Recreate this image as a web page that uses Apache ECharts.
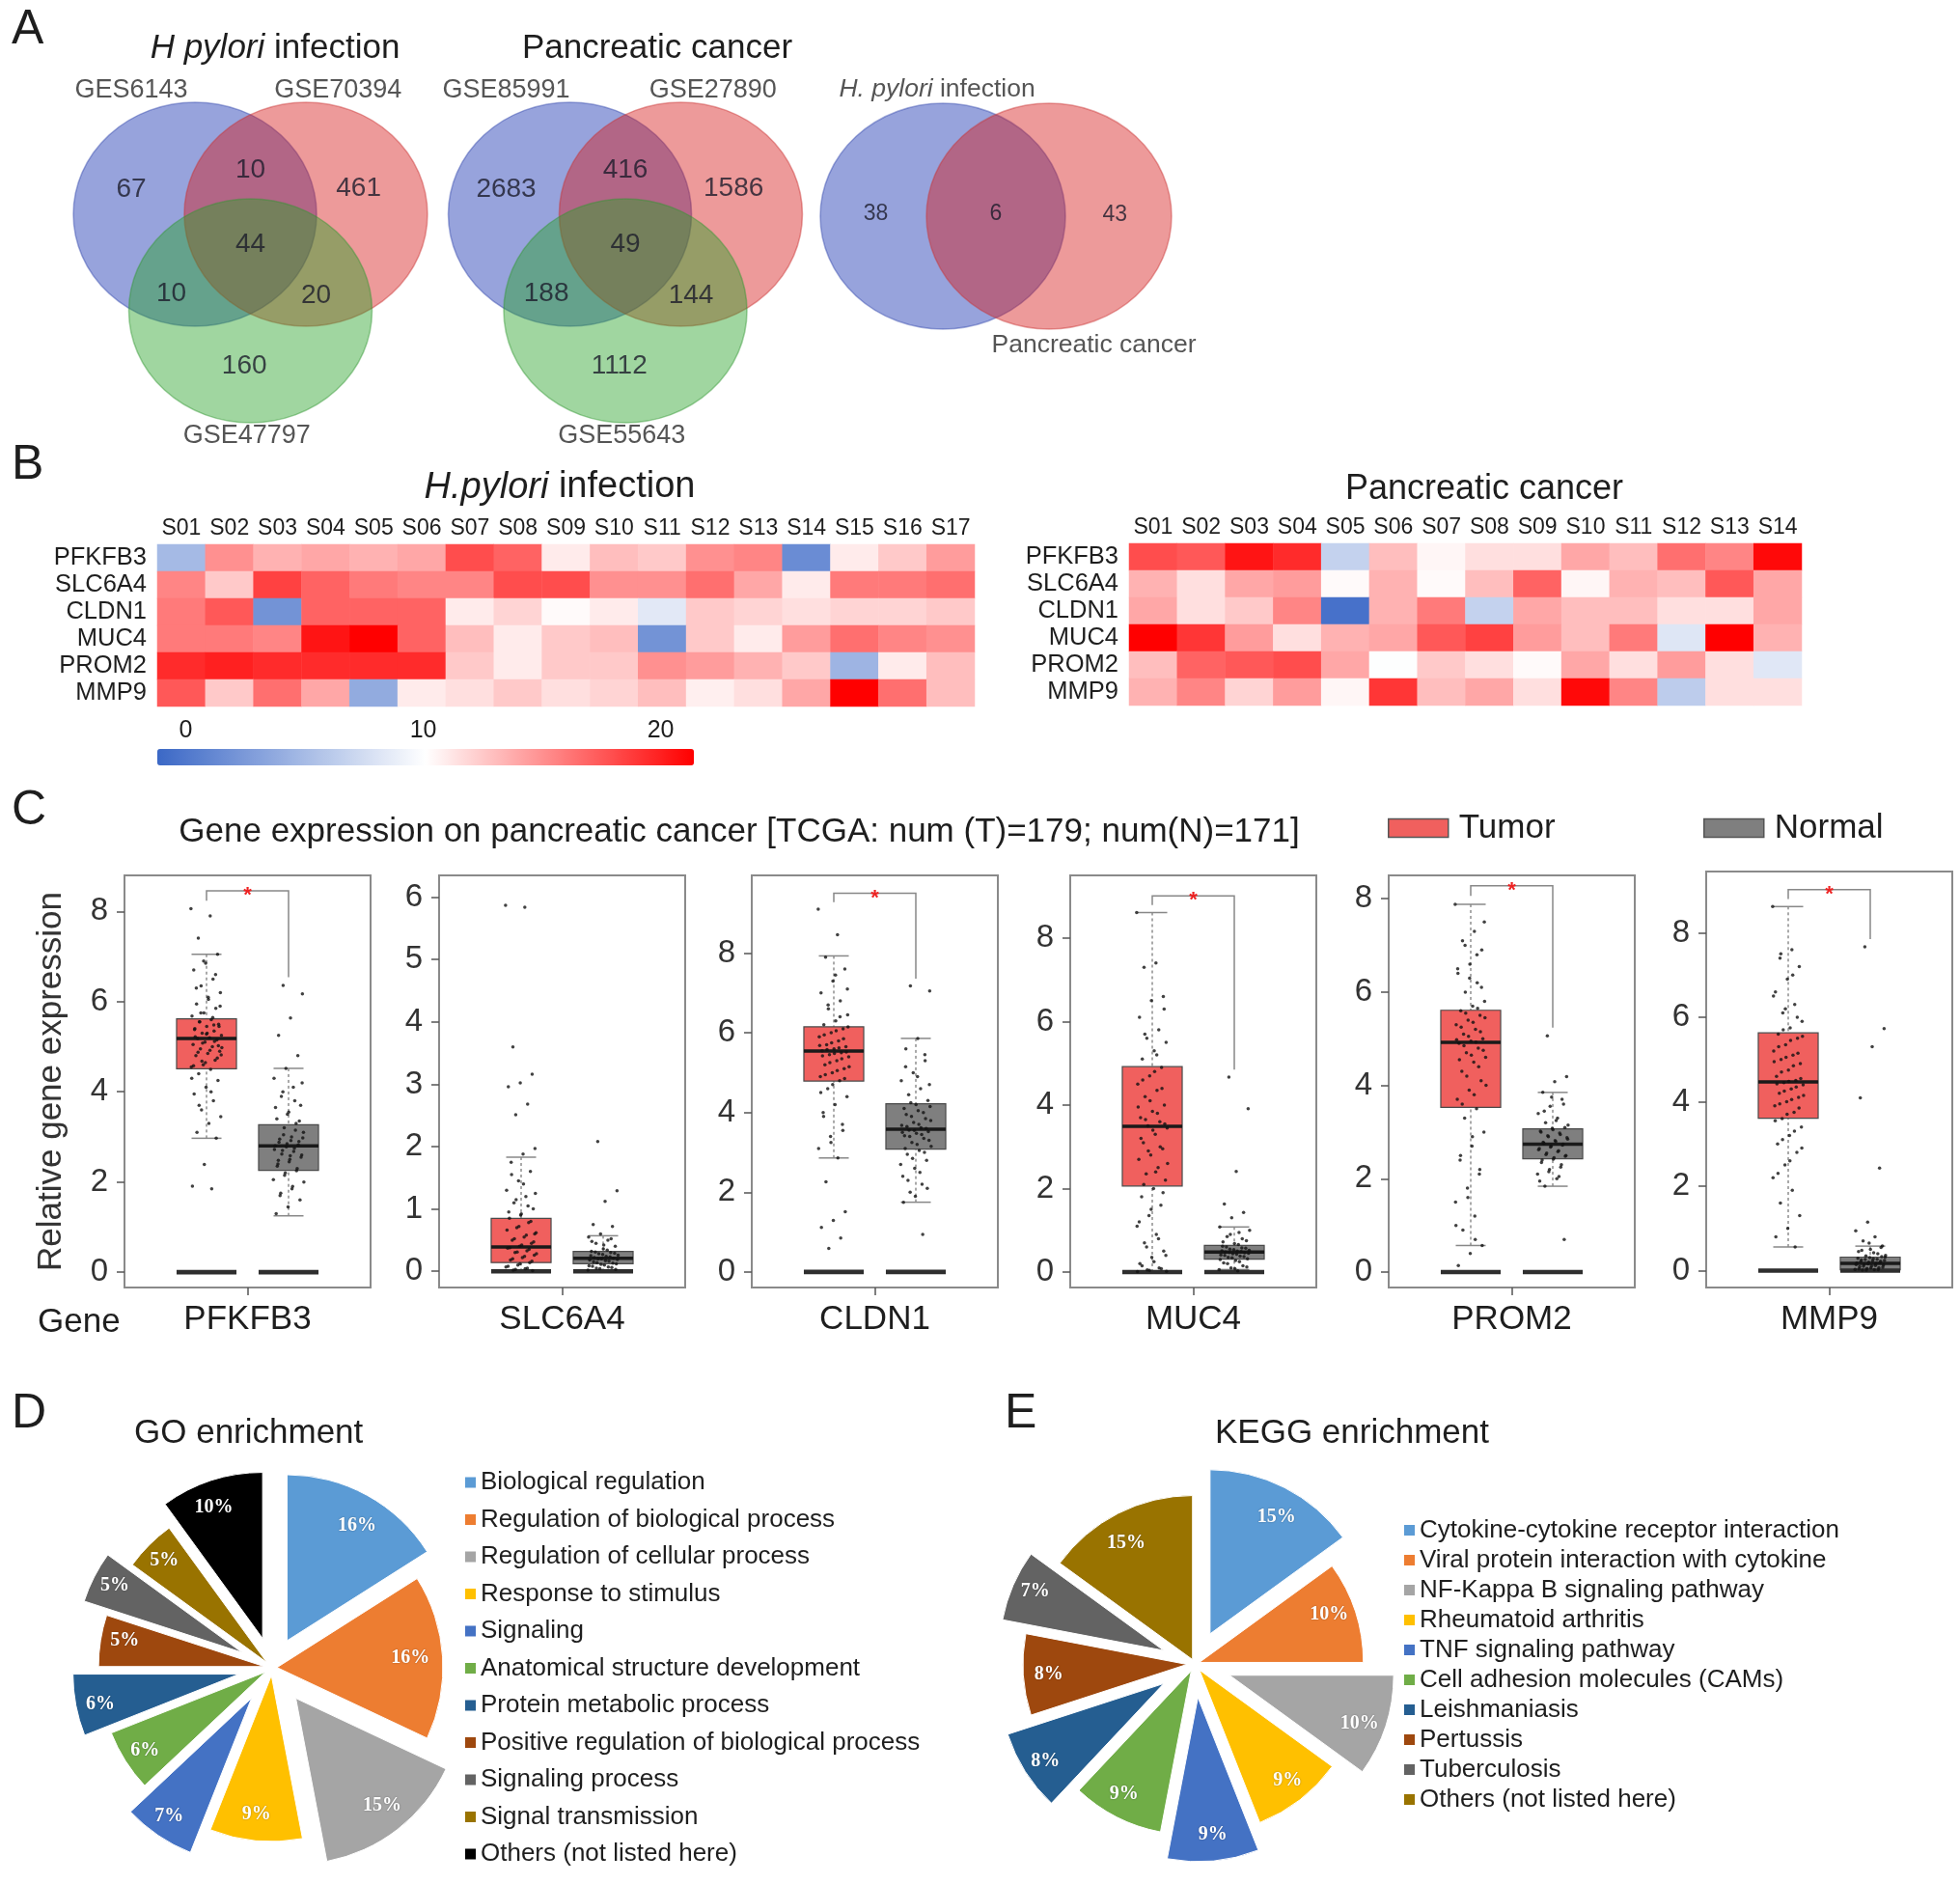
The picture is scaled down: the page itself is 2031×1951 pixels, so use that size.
<!DOCTYPE html>
<html><head><meta charset="utf-8">
<script src="https://cdn.jsdelivr.net/npm/echarts@6/dist/echarts.min.js"></script>
<style>html,body{margin:0;padding:0;background:#fff}#c{width:2031px;height:1951px}</style>
</head><body><div id="c"></div>
<script>
// ================= DATA =================
// Panel A : Venn region counts  (order: only1, 1&2, only2, all, 1&3, 2&3, only3)
const vennHpSets = ['GES6143', 'GSE70394', 'GSE47797'];
const vennHpCounts = [67, 10, 461, 44, 10, 20, 160];
const vennPcSets = ['GSE85991', 'GSE27890', 'GSE55643'];
const vennPcCounts = [2683, 416, 1586, 49, 188, 144, 1112];
const vennOverlapSets = ['H. pylori infection', 'Pancreatic cancer'];
const vennOverlapCounts = [38, 6, 43];

// Panel B : heatmaps
const genes = ['PFKFB3', 'SLC6A4', 'CLDN1', 'MUC4', 'PROM2', 'MMP9'];
const hpSamples = ['S01','S02','S03','S04','S05','S06','S07','S08','S09','S10','S11','S12','S13','S14','S15','S16','S17'];
const pcSamples = ['S01','S02','S03','S04','S05','S06','S07','S08','S09','S10','S11','S12','S13','S14'];
const hpExpr = [
  [4.9, 15, 13.5, 14, 13.5, 14, 18, 17, 11, 13, 12.5, 15, 15.5, 1.5, 11, 12.5, 14.5],
  [15.5, 12.5, 18.5, 17, 16, 15.5, 15.5, 18, 18, 15, 15, 16.5, 14, 11, 16, 16, 16.5],
  [16, 17.5, 2, 17, 17, 17, 11, 12, 10.3, 11, 8.4, 12.5, 12, 11.5, 12, 12, 12.5],
  [16, 16, 15.5, 20.5, 21.4, 17, 13, 11, 12.5, 13, 2, 12.5, 11, 14.5, 16.5, 15.5, 15],
  [19.5, 20, 19.5, 19.5, 19.5, 19.5, 12.5, 11, 12.5, 12.5, 15, 14.5, 13.5, 12.5, 4.5, 11, 13],
  [17.5, 12.5, 16.5, 14, 3.8, 11, 11.5, 12.5, 11.5, 12, 13, 10.8, 11.5, 14, 21.4, 16.5, 13]
];
const pcExpr = [
  [18, 17.5, 20.5, 19.5, 6.7, 13, 10.5, 11.5, 11.5, 14, 13, 16.5, 15.5, 21],
  [13.5, 11.5, 14, 14.5, 10.3, 13.5, 10.3, 13, 17, 10.5, 13.5, 13, 17.5, 14],
  [14, 11.5, 12.5, 15.5, -0.5, 13.5, 16, 6.7, 14, 13, 13, 11.5, 11.5, 14],
  [21.4, 19, 14.5, 11.5, 13.5, 14, 17.5, 18.5, 14.5, 13, 16, 8.2, 21.4, 13.5],
  [13, 17, 17.5, 18, 14, 10, 12.5, 11.5, 10.3, 14, 11.5, 14.5, 11.5, 8.3],
  [13.5, 15.5, 12, 14.5, 10.5, 19, 13, 14, 11.5, 21, 15.5, 6.3, 11.5, 11.5]
];
const colorbarTicks = [0, 10, 20];
const colorbarRange = [-1.2, 21.4];

// Panel C : box statistics [lower whisker, Q1, median, Q3, upper whisker]
const tumorBox = [
  [2.97, 4.51, 5.18, 5.62, 7.05],
  [0, 0.14, 0.39, 0.85, 1.83],
  [2.86, 4.79, 5.54, 6.15, 7.93],
  [0, 2.06, 3.49, 4.92, 8.61],
  [0.57, 3.53, 4.92, 5.61, 7.88],
  [0.56, 3.61, 4.47, 5.63, 8.62]
];
const normalBox = [
  [1.25, 2.26, 2.80, 3.27, 4.52],
  [0, 0.12, 0.21, 0.32, 0.57],
  [1.75, 3.08, 3.58, 4.22, 5.86],
  [0.06, 0.31, 0.48, 0.64, 1.08],
  [1.84, 2.43, 2.74, 3.07, 3.85],
  [0, 0.02, 0.17, 0.32, 0.58]
];
// individual sample values read (approximately) from the dot clouds
const tumorPoints = [
  [8.06, 7.9, 7.41, 7.05, 6.85, 6.7, 6.5, 6.35, 6.2, 6.05, 5.95, 5.85, 5.75, 5.68, 5.6, 5.55, 5.5, 5.45, 5.4, 5.35, 5.3, 5.25, 5.2, 5.18, 5.15, 5.1, 5.05, 5.0, 4.95, 4.9, 4.85, 4.8, 4.7, 4.6, 4.55, 4.5, 4.4, 4.25, 4.1, 3.95, 3.8, 3.6, 3.45, 3.3, 3.1, 2.97, 2.39, 1.91, 1.85,
   5.55, 5.45, 5.3, 5.22, 5.12, 5.08, 4.98, 4.92, 4.88, 4.75, 4.65, 4.58, 5.65, 5.75, 5.9, 6.1, 6.3, 6.6, 6.9, 4.3, 4.0, 3.7, 5.02, 5.28, 5.38, 5.48, 4.68, 4.82],
  [5.87, 5.84, 3.6, 3.16, 3.02, 2.96, 2.68, 2.51, 1.97, 1.88, 1.75, 1.6, 1.45, 1.3, 1.2, 1.1, 1.0, 0.92, 0.85, 0.78, 0.7, 0.62, 0.55, 0.5, 0.45, 0.4, 0.37, 0.33, 0.3, 0.26, 0.22, 0.18, 0.14, 0.1, 0.07, 0.04, 0.02, 0.01,
   0.9, 0.95, 1.05, 1.15, 1.25, 1.4, 1.55, 0.8, 0.72, 0.66, 0.58, 0.52, 0.47, 0.42, 0.38, 0.35, 0.31, 0.28, 0.24, 0.2, 0.16, 0.12, 0.08, 0.05, 0.03, 0.6],
  [9.1, 8.46, 7.9, 7.6, 7.3, 7.0, 6.8, 6.6, 6.45, 6.3, 6.2, 6.1, 6.0, 5.9, 5.8, 5.7, 5.65, 5.6, 5.55, 5.5, 5.45, 5.4, 5.3, 5.2, 5.1, 5.0, 4.9, 4.8, 4.6, 4.4, 4.2, 4.0, 3.7, 3.4, 3.1, 2.86, 2.26, 1.51, 1.29, 1.12, 0.85, 0.59,
   6.15, 6.05, 5.95, 5.85, 5.75, 5.68, 5.62, 5.58, 5.52, 5.48, 5.42, 5.35, 5.25, 5.15, 5.05, 4.95, 4.85, 4.7, 4.5, 6.4, 6.7, 7.1, 7.45, 3.9, 3.55, 3.25],
  [8.61, 7.4, 7.3, 6.6, 6.5, 6.1, 5.8, 5.6, 5.5, 5.3, 5.1, 4.9, 4.7, 4.5, 4.35, 4.2, 4.0, 3.85, 3.7, 3.6, 3.5, 3.45, 3.3, 3.1, 2.95, 2.8, 2.7, 2.5, 2.35, 2.2, 2.0, 1.8, 1.6, 1.35, 1.1, 0.9, 0.7, 0.5, 0.35, 0.2, 0.1, 0.05, 0.02,
   4.8, 4.6, 4.4, 4.1, 3.95, 3.8, 3.65, 3.55, 3.4, 3.2, 3.0, 2.9, 2.6, 2.4, 2.1, 1.9, 1.5, 1.2, 0.8, 0.6, 0.4, 0.25, 0.15, 0.08, 0.04, 0.01, 5.2, 5.7, 6.3],
  [7.88, 7.3, 7.1, 6.9, 6.6, 6.4, 6.2, 6.0, 5.8, 5.7, 5.6, 5.5, 5.4, 5.3, 5.2, 5.1, 5.0, 4.95, 4.9, 4.8, 4.7, 4.6, 4.5, 4.3, 4.1, 3.9, 3.7, 3.5, 3.3, 3.0, 2.7, 2.4, 2.1, 1.8, 1.5, 1.2, 0.9, 0.57, 0.4, 0.14,
   5.65, 5.55, 5.45, 5.35, 5.25, 5.15, 5.05, 4.98, 4.93, 4.85, 4.75, 4.65, 4.55, 4.4, 4.2, 4.0, 3.8, 3.6, 6.1, 6.3, 6.5, 6.8, 7.0, 7.5, 2.9, 2.5, 2.2, 1.6, 1.0, 0.7],
  [8.62, 7.6, 7.4, 7.2, 6.9, 6.6, 6.3, 6.1, 5.9, 5.75, 5.6, 5.5, 5.35, 5.2, 5.1, 5.0, 4.9, 4.75, 4.6, 4.5, 4.45, 4.4, 4.3, 4.2, 4.1, 4.0, 3.9, 3.75, 3.6, 3.4, 3.2, 3.0, 2.8, 2.5, 2.2, 1.9, 1.6, 1.3, 1.0, 0.8, 0.56,
   5.7, 5.55, 5.45, 5.3, 5.15, 5.05, 4.95, 4.85, 4.7, 4.55, 4.48, 4.42, 4.35, 4.25, 4.15, 4.05, 3.95, 3.85, 3.7, 3.55, 3.3, 3.1, 2.9, 2.6, 2.3, 6.0, 6.2, 6.5, 7.0, 7.5]
];
const normalPoints = [
  [6.36, 6.17, 5.64, 5.25, 4.8, 4.52, 4.3, 4.1, 3.9, 3.7, 3.55, 3.4, 3.3, 3.2, 3.1, 3.0, 2.95, 2.9, 2.85, 2.8, 2.75, 2.7, 2.6, 2.5, 2.4, 2.3, 2.2, 2.05, 1.9, 1.75, 1.6, 1.45, 1.3,
   3.15, 3.05, 2.98, 2.92, 2.88, 2.82, 2.78, 2.72, 2.68, 2.62, 2.55, 2.45, 2.35, 2.25, 2.15, 2.0, 1.85, 1.7, 3.35, 3.5, 3.65, 3.8, 4.0, 4.2, 2.58, 2.48],
  [2.08, 1.29, 1.12, 0.75, 0.72, 0.6, 0.55, 0.5, 0.45, 0.4, 0.36, 0.32, 0.3, 0.28, 0.26, 0.24, 0.22, 0.21, 0.2, 0.18, 0.16, 0.14, 0.12, 0.1, 0.08, 0.06, 0.04, 0.02,
   0.34, 0.31, 0.29, 0.27, 0.25, 0.23, 0.2, 0.19, 0.17, 0.15, 0.13, 0.11, 0.09, 0.07, 0.05, 0.03, 0.42, 0.48, 0.52],
  [7.18, 7.05, 5.86, 5.6, 5.3, 5.0, 4.8, 4.6, 4.45, 4.3, 4.2, 4.1, 4.0, 3.9, 3.8, 3.7, 3.65, 3.6, 3.55, 3.5, 3.45, 3.4, 3.3, 3.2, 3.1, 3.0, 2.85, 2.7, 2.5, 2.3, 2.1, 1.9, 1.75, 0.94,
   4.25, 4.15, 4.05, 3.95, 3.85, 3.75, 3.68, 3.62, 3.56, 3.52, 3.48, 3.42, 3.35, 3.25, 3.15, 3.05, 2.95, 2.8, 2.6, 2.4, 2.2, 2.0, 4.7, 4.9, 5.15, 5.45],
  [4.67, 3.91, 2.41, 1.63, 1.43, 1.3, 1.08, 0.95, 0.85, 0.75, 0.68, 0.62, 0.58, 0.55, 0.52, 0.5, 0.48, 0.46, 0.44, 0.41, 0.38, 0.35, 0.32, 0.28, 0.22, 0.15, 0.1, 0.06,
   0.66, 0.6, 0.57, 0.54, 0.51, 0.49, 0.47, 0.45, 0.43, 0.4, 0.37, 0.34, 0.3, 0.25, 0.2, 0.12, 0.08, 0.72, 0.8, 0.9, 1.0, 0.03],
  [5.06, 4.19, 4.08, 3.85, 3.7, 3.55, 3.4, 3.3, 3.2, 3.1, 3.05, 3.0, 2.95, 2.9, 2.85, 2.8, 2.76, 2.74, 2.7, 2.65, 2.6, 2.55, 2.5, 2.45, 2.4, 2.3, 2.2, 2.1, 2.0, 1.84, 0.7,
   3.08, 3.02, 2.98, 2.92, 2.88, 2.82, 2.78, 2.72, 2.68, 2.62, 2.58, 2.52, 2.48, 2.42, 2.35, 2.25, 2.15, 3.15, 3.25, 3.45, 3.6, 3.75, 1.95, 2.05],
  [7.67, 5.73, 5.3, 4.09, 2.43, 1.15, 0.94, 0.8, 0.7, 0.58, 0.5, 0.45, 0.4, 0.35, 0.32, 0.28, 0.25, 0.22, 0.2, 0.18, 0.17, 0.15, 0.13, 0.11, 0.09, 0.07, 0.05, 0.03, 0.02, 0.01,
   0.33, 0.31, 0.29, 0.27, 0.26, 0.24, 0.23, 0.21, 0.19, 0.16, 0.14, 0.12, 0.1, 0.08, 0.06, 0.04, 0.02, 0.01, 0.36, 0.42, 0.48, 0.55, 0.65]
];
const significant = [true, false, true, true, true, true];
const baselineValue = 0;
const yAxisMin = [-0.34, -0.26, -0.39, -0.37, -0.33, -0.4];
const yAxisMax = [8.8, 6.35, 9.95, 9.5, 8.5, 9.45];

// Panel D / E : enrichment percentages
const goTerms = ['Biological regulation', 'Regulation of biological process', 'Regulation of cellular process', 'Response to stimulus', 'Signaling', 'Anatomical structure development', 'Protein metabolic process', 'Positive regulation of biological process', 'Signaling process', 'Signal transmission', 'Others (not listed here)'];
const goPercent = [16, 16, 15, 9, 7, 6, 6, 5, 5, 5, 10];
const keggTerms = ['Cytokine-cytokine receptor interaction', 'Viral protein interaction with cytokine', 'NF-Kappa B signaling pathway', 'Rheumatoid arthritis', 'TNF signaling pathway', 'Cell adhesion molecules (CAMs)', 'Leishmaniasis', 'Pertussis', 'Tuberculosis', 'Others (not listed here)'];
const keggPercent = [15, 10, 10, 9, 9, 9, 8, 8, 7, 15];

// ================= STYLE / LAYOUT =================
const FONT = "'Liberation Sans', Arial, Helvetica, sans-serif";
const TXT = '#1e1e1e';
const vennColors = ['rgba(18,45,176,0.55)', 'rgba(213,24,24,0.55)', 'rgba(38,162,38,0.55)'];
const vennEdges = ['rgba(50,70,170,0.55)', 'rgba(200,50,50,0.55)', 'rgba(50,150,50,0.55)'];
const venn3Layout = {
  centers: [[-0.456, 0], [0.456, 0], [0, -0.862]],
  regions: [[-0.98, 0.22], [0, 0.39], [0.89, 0.23], [0, -0.27], [-0.65, -0.71], [0.54, -0.73], [-0.05, -1.36]],
  names: [[-0.98, 1.11], [0.72, 1.11], [-0.03, -1.98]]
};
const venn2Layout = {
  centers: [[-0.433, 0], [0.433, 0]],
  regions: [[-0.98, 0.02], [0, 0.02], [0.97, 0.01]],
  names: [[-0.48, 1.12], [0.80, -1.14]]
};
const venns = [
  { sets: vennHpSets, counts: vennHpCounts, layout: venn3Layout, cx: 259.5, cy: 222, ux: 126, uy: 116, numSize: 28, nameSize: 27 },
  { sets: vennPcSets, counts: vennPcCounts, layout: venn3Layout, cx: 648, cy: 222, ux: 126, uy: 116, numSize: 28, nameSize: 27 },
  { sets: vennOverlapSets, counts: vennOverlapCounts, layout: venn2Layout, cx: 1032, cy: 224, ux: 127, uy: 117, numSize: 23, nameSize: 26.5 }
];
const tumorColor = '#f0605e';
const normalColor = '#7f7f7f';
const boxWidth = 0.73;
const jitterWidth = 0.38;
const panelLeft = [129, 455, 779, 1109, 1439, 1768];
const panelTop = [907, 907, 907, 907, 907, 903];
const panelBottom = 1334;
const panelWidth = 255;
const officeColors = ['#5b9bd5', '#ed7d31', '#a5a5a5', '#ffc000', '#4472c4', '#70ad47', '#255e91', '#9e480e', '#636363', '#997300'];
const goColors = officeColors.concat(['#000000']);
const keggColors = officeColors;
const goExplode = [32, 5, 40, 8, 38, 8, 35, 8, 35, 8, 32];
const keggExplode = [35, 5, 38, 8, 35, 8, 38, 8, 35, 5];

// ================= BUILD =================
const grids = [], xAxes = [], yAxes = [], series = [];

// ---- Venn diagrams ----
venns.forEach((v) => {
  const gi = grids.length;
  grids.push({ left: v.cx - 2 * v.ux, top: v.cy - 1.6 * v.uy, width: 4 * v.ux, height: 3.8 * v.uy, outerBoundsMode: 'none' });
  xAxes.push({ gridIndex: gi, type: 'value', min: -2, max: 2, show: false });
  yAxes.push({ gridIndex: gi, type: 'value', min: -2.2, max: 1.6, show: false });
  series.push({
    type: 'scatter', xAxisIndex: gi, yAxisIndex: gi, silent: true, z: 1,
    symbol: 'circle', symbolSize: [2 * v.ux, 2 * v.uy],
    data: v.layout.centers.map((c, k) => ({ value: c, itemStyle: { color: vennColors[k], borderColor: vennEdges[k], borderWidth: 1.5 } }))
  });
  series.push({
    type: 'scatter', xAxisIndex: gi, yAxisIndex: gi, silent: true, z: 3,
    symbolSize: 1, itemStyle: { color: 'rgba(0,0,0,0)' },
    label: { show: true, position: 'inside', formatter: '{b}', fontSize: v.numSize, color: '#1b1b2b', fontFamily: FONT },
    data: v.layout.regions.map((p, k) => ({ value: p, name: String(v.counts[k]) }))
  });
  series.push({
    type: 'scatter', xAxisIndex: gi, yAxisIndex: gi, silent: true, z: 3,
    symbolSize: 1, itemStyle: { color: 'rgba(0,0,0,0)' },
    label: {
      show: true, position: 'inside', fontSize: v.nameSize, color: '#2a2a2a', fontFamily: FONT,
      formatter: (p) => p.name.indexOf('H. pylori') === 0 ? '{i|H. pylori}' + p.name.slice(9) : p.name,
      rich: { i: { fontStyle: 'italic', fontSize: v.nameSize, fontFamily: FONT, color: '#2a2a2a' } }
    },
    data: v.layout.names.map((p, k) => ({ value: p, name: v.sets[k] }))
  });
});

// ---- Heatmaps ----
const heatIdx = [];
[[hpSamples, hpExpr, 163, 564, 847, 168, 11], [pcSamples, pcExpr, 1170, 563, 697, 168, 11]].forEach(([samples, expr, l, t, w, h, lm]) => {
  const gi = grids.length;
  grids.push({ left: l, top: t, width: w, height: h, outerBoundsMode: 'none' });
  xAxes.push({ gridIndex: gi, type: 'category', data: samples, position: 'top',
    axisLine: { show: false }, axisTick: { show: false }, splitLine: { show: false },
    axisLabel: { interval: 0, fontSize: 23, color: TXT, margin: 5, fontFamily: FONT } });
  yAxes.push({ gridIndex: gi, type: 'category', data: genes, inverse: true,
    axisLine: { show: false }, axisTick: { show: false }, splitLine: { show: false },
    axisLabel: { interval: 0, fontSize: 25.5, color: TXT, margin: lm, fontFamily: FONT } });
  heatIdx.push(series.length);
  series.push({
    type: 'heatmap', xAxisIndex: gi, yAxisIndex: gi, silent: true,
    itemStyle: { borderWidth: 0 }, emphasis: { disabled: true },
    data: expr.flatMap((row, r) => row.map((val, c) => [c, r, val]))
  });
});
// colorbar tick axis
{
  const gi = grids.length;
  grids.push({ left: 163, top: 776, width: 556, height: 17, outerBoundsMode: 'none' });
  xAxes.push({ gridIndex: gi, type: 'value', min: colorbarRange[0], max: colorbarRange[1], splitNumber: 2, position: 'top',
    axisLine: { show: false }, axisTick: { show: false }, splitLine: { show: false },
    axisLabel: { fontSize: 25, color: TXT, margin: 6, showMinLabel: false, showMaxLabel: false, fontFamily: FONT,
      formatter: (val) => colorbarTicks.indexOf(val) >= 0 ? String(val) : '' } });
  yAxes.push({ gridIndex: gi, type: 'value', show: false });
}

// ---- Box plots ----
function renderBox(params, api) {
  const x = api.value(0);
  const lo = api.value(1), q1 = api.value(2), md = api.value(3), q3 = api.value(4), hi = api.value(5);
  const hw = api.size([boxWidth, 0])[0] / 2;
  const pLo = api.coord([x, lo]), pQ1 = api.coord([x, q1]), pMd = api.coord([x, md]), pQ3 = api.coord([x, q3]), pHi = api.coord([x, hi]);
  const p0 = api.coord([x, baselineValue]);
  const cap = hw * 0.5;
  const fill = api.visual('color');
  return { type: 'group', children: [
    { type: 'line', shape: { x1: pHi[0], y1: pHi[1], x2: pQ3[0], y2: pQ3[1] }, style: { stroke: '#555', lineWidth: 1, lineDash: [3, 3] } },
    { type: 'line', shape: { x1: pLo[0], y1: pLo[1], x2: pQ1[0], y2: pQ1[1] }, style: { stroke: '#555', lineWidth: 1, lineDash: [3, 3] } },
    { type: 'line', shape: { x1: pHi[0] - cap, y1: pHi[1], x2: pHi[0] + cap, y2: pHi[1] }, style: { stroke: '#888', lineWidth: 1.5 } },
    { type: 'line', shape: { x1: pLo[0] - cap, y1: pLo[1], x2: pLo[0] + cap, y2: pLo[1] }, style: { stroke: '#888', lineWidth: 1.5 } },
    { type: 'rect', shape: { x: pQ3[0] - hw, y: pQ3[1], width: 2 * hw, height: pQ1[1] - pQ3[1] }, style: { fill: fill, stroke: '#4a4a4a', lineWidth: 1.2 } },
    { type: 'line', shape: { x1: pMd[0] - hw, y1: pMd[1], x2: pMd[0] + hw, y2: pMd[1] }, style: { stroke: '#1a1a1a', lineWidth: 3.5 } },
    { type: 'rect', shape: { x: p0[0] - hw, y: p0[1] - 2.3, width: 2 * hw, height: 4.6 }, style: { fill: '#2e2e2e' } }
  ] };
}
function renderBracket(params, api) {
  const yb = api.value(2), yt = api.value(3), yn = api.value(4);
  const a = api.coord([api.value(0), yb]), b = api.coord([api.value(1), yb]);
  const at = api.coord([api.value(0), yt]), bt = api.coord([api.value(1), yn]);
  return { type: 'group', children: [
    { type: 'polyline', shape: { points: [at, a, b, bt] }, style: { stroke: '#888', lineWidth: 1.5, fill: null } },
    { type: 'text', style: { text: '*', x: (a[0] + b[0]) / 2, y: a[1] + 5, fill: '#ee2222', fontSize: 22, fontWeight: 'bold', align: 'center', verticalAlign: 'middle', textAlign: 'center', textVerticalAlign: 'middle' } }
  ] };
}
genes.forEach((g, k) => {
  const gi = grids.length;
  grids.push({ left: panelLeft[k], top: panelTop[k], width: panelWidth, height: panelBottom - panelTop[k],
    show: true, borderColor: '#8a8a8a', borderWidth: 2, backgroundColor: 'rgba(0,0,0,0)', outerBoundsMode: 'none' });
  const xv = xAxes.length;
  xAxes.push({ gridIndex: gi, type: 'value', min: 0, max: 3, show: false });
  xAxes.push({ gridIndex: gi, type: 'category', data: [g], position: 'bottom',
    axisLine: { show: false }, splitLine: { show: false },
    axisTick: { show: true, alignWithLabel: true, length: 8, lineStyle: { color: '#555', width: 1.5 } },
    axisLabel: { fontSize: 35, color: TXT, margin: 16, fontFamily: FONT } });
  const yi = yAxes.length;
  yAxes.push(Object.assign({ gridIndex: gi, type: 'value', min: yAxisMin[k], max: yAxisMax[k], splitNumber: 5,
    axisLine: { show: false }, splitLine: { show: false },
    axisTick: { show: true, length: 8, lineStyle: { color: '#555', width: 1.5 } },
    axisLabel: { fontSize: 33, color: '#333', margin: 17, showMinLabel: false, showMaxLabel: false, fontFamily: FONT } },
    k === 0 ? { name: 'Relative gene expression', nameLocation: 'middle', nameGap: 58, nameTextStyle: { fontSize: 35, color: '#333', fontFamily: FONT } } : {}));
  series.push({ type: 'custom', name: 'Tumor', xAxisIndex: xv, yAxisIndex: yi, silent: true, z: 2, itemStyle: { color: tumorColor },
    renderItem: renderBox, encode: { x: 0, y: [1, 2, 3, 4, 5] }, data: [[1].concat(tumorBox[k])] });
  series.push({ type: 'custom', name: 'Normal', xAxisIndex: xv, yAxisIndex: yi, silent: true, z: 2, itemStyle: { color: normalColor },
    renderItem: renderBox, encode: { x: 0, y: [1, 2, 3, 4, 5] }, data: [[2].concat(normalBox[k])] });
  const jit = (i) => (((i * 0.6180339887) % 1) - 0.5) * jitterWidth;
  series.push({ type: 'scatter', xAxisIndex: xv, yAxisIndex: yi, silent: true, z: 4, symbolSize: 3.5,
    itemStyle: { color: '#111', opacity: 0.8 },
    data: tumorPoints[k].map((y, i) => [1 + jit(i), y]).concat(normalPoints[k].map((y, i) => [2 + jit(i + 7), y])) });
  if (significant[k]) {
    const tMax = Math.max.apply(null, tumorPoints[k].concat(tumorBox[k]));
    const nMax = Math.max.apply(null, normalPoints[k].concat(normalBox[k]));
    const top = Math.max(tMax, nMax) + 0.4;
    series.push({ type: 'custom', xAxisIndex: xv, yAxisIndex: yi, silent: true, z: 5, renderItem: renderBracket,
      encode: { x: [0, 1], y: [2, 3, 4] }, data: [[1, 2, top, tMax + 0.18, nMax + 0.18]] });
  }
});

// ---- Exploded pies ----
function explodedPie(terms, values, colors, offsets, center, r) {
  const out = [];
  terms.forEach((t, i) => {
    [false, true].forEach((isLabel) => {
      out.push({
        type: 'pie', center: center, radius: isLabel ? [r * 0.72, r] : [0, r],
        startAngle: 90, clockwise: true, selectedMode: 'multiple', selectedOffset: offsets[i],
        avoidLabelOverlap: false, silent: true, z: isLabel ? 4 : 2, minShowLabelAngle: 0,
        emphasis: { disabled: true }, labelLine: { show: false },
        data: terms.map((n, j) => {
          const vis = (j === i && !isLabel);
          const st = vis ? { color: colors[j], borderColor: '#fff', borderWidth: 1 } : { color: 'rgba(0,0,0,0)', borderWidth: 0 };
          const lb = { show: j === i && isLabel, position: 'inside', formatter: '{c}%', color: '#fff',
            fontFamily: "'Liberation Serif', 'Times New Roman', serif", fontWeight: 'bold', fontSize: 20,
            textShadowColor: 'rgba(0,0,0,0.35)', textShadowBlur: 2 };
          return { name: n, value: values[j], selected: j === i, itemStyle: st, label: lb,
            select: { itemStyle: st, label: lb }, emphasis: { disabled: true } };
        })
      });
    });
  });
  return out;
}
explodedPie(goTerms, goPercent, goColors, goExplode, [282, 1728], 172).forEach(s => series.push(s));
explodedPie(keggTerms, keggPercent, keggColors, keggExplode, [1238, 1724], 170).forEach(s => series.push(s));

// ---- Text ----
function txt(text, x, y, size, align) {
  return { type: 'text', x: x, y: y, silent: true, style: {
    text: text, fontSize: size, fontFamily: FONT, fill: TXT,
    align: align, verticalAlign: 'middle', textAlign: align, textVerticalAlign: 'middle',
    rich: { i: { fontStyle: 'italic', fontSize: size, fontFamily: FONT, fill: TXT, color: TXT } }
  } };
}
const texts = [
  txt('A', 12, 31, 50, 'left'),
  txt('{i|H pylori} infection', 285, 50, 35, 'center'),
  txt('Pancreatic cancer', 681, 50, 35, 'center'),
  txt('B', 12, 482, 50, 'left'),
  txt('{i|H.pylori} infection', 580, 505, 38, 'center'),
  txt('Pancreatic cancer', 1538, 507, 36, 'center'),
  txt('C', 12, 840, 50, 'left'),
  txt('Gene expression on pancreatic cancer [TCGA: num (T)=179; num(N)=171]', 766, 862, 35, 'center'),
  txt('Gene', 39, 1370, 35, 'left'),
  txt('D', 12, 1465, 50, 'left'),
  txt('E', 1041, 1465, 50, 'left'),
  txt('GO enrichment', 139, 1485, 35, 'left'),
  txt('KEGG enrichment', 1259, 1485, 35, 'left')
];

const option = {
  animation: false,
  backgroundColor: '#ffffff',
  textStyle: { fontFamily: FONT },
  grid: grids, xAxis: xAxes, yAxis: yAxes, series: series,
  visualMap: [{
    type: 'continuous', min: colorbarRange[0], max: colorbarRange[1], seriesIndex: heatIdx,
    orient: 'horizontal', left: 163, top: 776, itemWidth: 17, itemHeight: 556, padding: 0,
    calculable: false, hoverLink: false, text: null, showLabel: false,
    inRange: { color: ['#3b68c6', '#ffffff', '#ff0000'] }
  }],
  legend: [
    { selectedMode: false, left: 1433, top: 833, itemWidth: 62, itemHeight: 19, icon: 'rect',
      textStyle: { fontSize: 35, lineHeight: 40, color: TXT, fontFamily: FONT, padding: [0, 0, 0, 6] },
      data: [{ name: 'Tumor', itemStyle: { color: tumorColor, borderColor: '#555', borderWidth: 1.5 } }] },
    { selectedMode: false, left: 1760, top: 833, itemWidth: 62, itemHeight: 19, icon: 'rect',
      textStyle: { fontSize: 35, lineHeight: 40, color: TXT, fontFamily: FONT, padding: [0, 0, 0, 6] },
      data: [{ name: 'Normal', itemStyle: { color: normalColor, borderColor: '#555', borderWidth: 1.5 } }] },
    { selectedMode: false, orient: 'vertical', left: 477, top: 1517, itemWidth: 11, itemHeight: 11, itemGap: 10.5, icon: 'rect',
      textStyle: { fontSize: 26, lineHeight: 28, color: TXT, fontFamily: FONT },
      data: goTerms.map((n, j) => ({ name: n, itemStyle: { color: goColors[j], borderWidth: 0 } })) },
    { selectedMode: false, orient: 'vertical', left: 1450, top: 1567, itemWidth: 11, itemHeight: 11, itemGap: 4, icon: 'rect',
      textStyle: { fontSize: 26, lineHeight: 27, color: TXT, fontFamily: FONT },
      data: keggTerms.map((n, j) => ({ name: n, itemStyle: { color: keggColors[j], borderWidth: 0 } })) }
  ],
  graphic: { elements: texts }
};
const chart = echarts.init(document.getElementById('c'), null, { renderer: 'canvas' });
chart.setOption(option);
</script></body></html>
